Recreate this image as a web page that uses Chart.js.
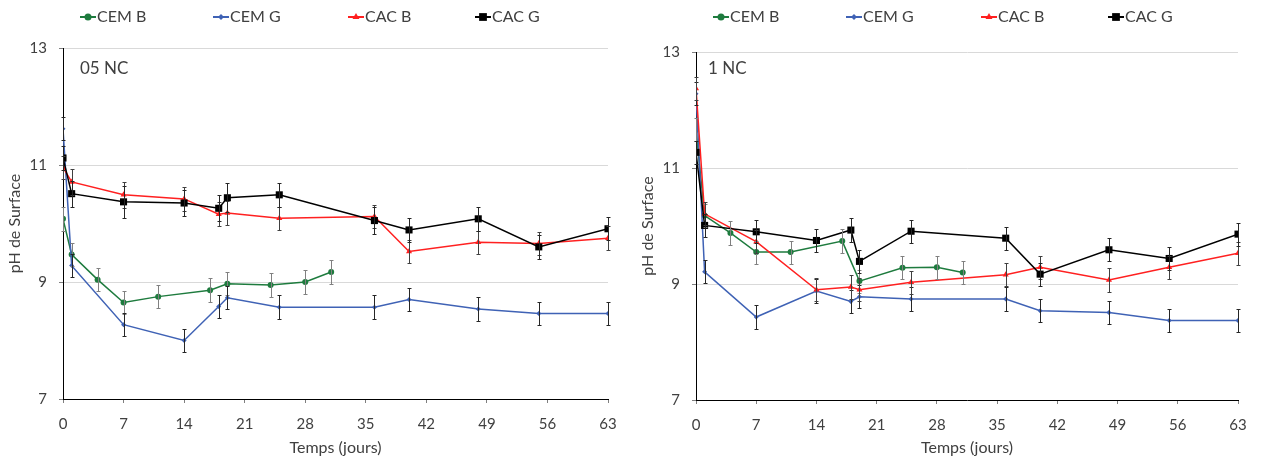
<!DOCTYPE html>
<html lang="fr">
<head>
<meta charset="utf-8">
<title>pH de surface</title>
<script src="https://cdn.jsdelivr.net/npm/chart.js@4/dist/chart.umd.min.js"></script>
<style>
  html, body { margin: 0; padding: 0; background: #fff; }
  .wrap { position: relative; width: 1261px; height: 461px; overflow: hidden; }
  .panel { position: absolute; top: 0; height: 461px; }
</style>
</head>
<body>
<div class="wrap">
  <div class="panel" style="left:0;width:630px"><canvas id="chart05" width="630" height="461"></canvas></div>
  <div class="panel" style="left:630px;width:631px"><canvas id="chart1" width="631" height="461"></canvas></div>
</div>
<script>
// jours de mesure
const daysMain = [0, 1, 7, 14, 18, 19, 25, 36, 40, 48, 55, 63];
const daysCemB = [0, 1, 4, 7, 11, 17, 19, 24, 28, 31];

// graduations
const xTicks = [0, 7, 14, 21, 28, 35, 42, 49, 56, 63];
const yTicks = [7, 9, 11, 13];

// 05 NC
const cemB05 = [10.08, 9.47, 9.04, 8.65, 8.75, 8.86, 8.97, 8.95, 9.0, 9.17];
const cemG05 = [11.62, 9.28, 8.27, 8.0, 8.58, 8.73, 8.57, 8.57, 8.7, 8.54, 8.46, 8.46];
const cacB05 = [10.96, 10.71, 10.49, 10.42, 10.16, 10.18, 10.09, 10.12, 9.52, 9.68, 9.66, 9.75];
const cacG05 = [11.12, 10.51, 10.37, 10.35, 10.26, 10.44, 10.49, 10.05, 9.89, 10.08, 9.6, 9.91];

const cemB05Err = [0.2, 0.2, 0.2, 0.2, 0.2, 0.2, 0.2, 0.2, 0.2, 0.2];
const cemG05Err = [0.2, 0.2, 0.2, 0.2, 0.2, 0.2, 0.2, 0.2, 0.2, 0.2, 0.2, 0.2];
const cacB05Err = [0.2, 0.22, 0.22, 0.2, 0.2, 0.2, 0.2, 0.2, 0.2, 0.2, 0.2, 0.2];
const cacG05Err = [0.2, 0.22, 0.27, 0.22, 0.22, 0.25, 0.21, 0.23, 0.2, 0.2, 0.2, 0.2];

// 1 NC
const cemB1 = [11.66, 10.18, 9.88, 9.55, 9.55, 9.74, 9.05, 9.28, 9.29, 9.2];
const cemG1 = [12.28, 9.21, 8.43, 8.88, 8.7, 8.78, 8.74, 8.74, 8.54, 8.51, 8.37, 8.37];
const cacB1 = [12.37, 10.21, 9.73, 8.9, 8.95, 8.9, 9.03, 9.16, 9.29, 9.07, 9.29, 9.53];
const cacG1 = [11.27, 10.01, 9.9, 9.75, 9.93, 9.39, 9.91, 9.79, 9.17, 9.59, 9.44, 9.86];

const cemB1Err = [0.2, 0.2, 0.2, 0.2, 0.2, 0.2, 0.2, 0.2, 0.2, 0.2];
const cemG1Err = [0.2, 0.2, 0.2, 0.2, 0.2, 0.2, 0.2, 0.2, 0.2, 0.2, 0.2, 0.2];
const cacB1Err = [0.2, 0.2, 0.2, 0.2, 0.2, 0.2, 0.2, 0.2, 0.2, 0.2, 0.2, 0.2];
const cacG1Err = [0.2, 0.2, 0.2, 0.2, 0.2, 0.2, 0.2, 0.2, 0.2, 0.2, 0.2, 0.2];

const FONT = "Lato, 'Open Sans', sans-serif";
const TEXT = "#404040";

// style des séries
const seriesStyle = [
  { label: "CEM B", color: "#1e7b3e", err: "#808080", point: "circle", radius: 3, order: 4 },
  { label: "CEM G", color: "#3f62b5", err: "#262626", point: "rectRot", radius: 2.5, order: 3 },
  { label: "CAC B", color: "#ff2020", err: "#404040", point: "triangle", radius: 3.5, order: 2 },
  { label: "CAC G", color: "#000000", err: "#262626", point: "rect", radius: 5, order: 1 },
];

// décalage des entrées de légende depuis le bord gauche du graphe
const legendOffsets = [17, 150, 285, 412];

function toPoints(days, values) {
  return values.map((v, i) => ({ x: days[i], y: v }));
}

// barres d'erreur
const errorBarsPlugin = {
  id: "errorBars",
  afterDatasetsDraw(chart) {
    const ctx = chart.ctx;
    const yScale = chart.scales.y;
    chart.data.datasets.forEach((ds, i) => {
      const meta = chart.getDatasetMeta(i);
      ctx.save();
      ctx.strokeStyle = ds.errorColor;
      ctx.lineWidth = 1;
      meta.data.forEach((pt, j) => {
        const v = ds.data[j].y;
        const e = ds.errors[j];
        const yTop = Math.round(yScale.getPixelForValue(v + e)) + 0.5;
        const yBot = Math.round(yScale.getPixelForValue(v - e)) + 0.5;
        const x = Math.round(pt.x) + 0.5;
        ctx.beginPath();
        ctx.moveTo(x, yTop);
        ctx.lineTo(x, yBot);
        ctx.moveTo(x - 2, yTop);
        ctx.lineTo(x + 2, yTop);
        ctx.moveTo(x - 2, yBot);
        ctx.lineTo(x + 2, yBot);
        ctx.stroke();
      });
      ctx.restore();
    });
  },
};

function drawMarker(ctx, style, r, x, y) {
  ctx.beginPath();
  if (style === "circle") {
    ctx.arc(x, y, r, 0, Math.PI * 2);
  } else if (style === "rect") {
    const s = r * Math.SQRT1_2;
    ctx.rect(x - s, y - s, 2 * s, 2 * s);
  } else if (style === "rectRot") {
    ctx.moveTo(x, y - r);
    ctx.lineTo(x + r, y);
    ctx.lineTo(x, y + r);
    ctx.lineTo(x - r, y);
    ctx.closePath();
  } else if (style === "triangle") {
    ctx.moveTo(x, y - r);
    ctx.lineTo(x + r * 0.87, y + r * 0.5);
    ctx.lineTo(x - r * 0.87, y + r * 0.5);
    ctx.closePath();
  }
  ctx.fill();
}

// légende en haut + étiquette du panneau
const legendPlugin = {
  id: "topLegend",
  afterDraw(chart, args, opts) {
    const ctx = chart.ctx;
    const area = chart.chartArea;
    ctx.save();
    ctx.font = "16px " + FONT;
    ctx.textBaseline = "middle";
    const y = 17;
    chart.data.datasets.forEach((ds, i) => {
      const x = area.left + legendOffsets[i];
      ctx.strokeStyle = ds.borderColor;
      ctx.lineWidth = 2;
      ctx.beginPath();
      ctx.moveTo(x, y);
      ctx.lineTo(x + 16, y);
      ctx.stroke();
      ctx.fillStyle = ds.borderColor;
      drawMarker(ctx, ds.pointStyle, ds.pointRadius + 0.5, x + 8, y);
      ctx.fillStyle = TEXT;
      ctx.textAlign = "left";
      ctx.fillText(ds.label, x + 17, y);
    });
    ctx.font = "17px " + FONT;
    ctx.fillStyle = TEXT;
    ctx.fillText(opts.panel, area.left + opts.panelDx, 69);
    ctx.restore();
  },
};

function makeChart(id, panel, seriesDays, seriesValues, seriesErrors, geom) {
  const canvas = document.getElementById(id);
  const datasets = seriesStyle.map((s, i) => ({
    label: s.label,
    data: toPoints(seriesDays[i], seriesValues[i]),
    errors: seriesErrors[i],
    errorColor: s.err,
    borderColor: s.color,
    backgroundColor: s.color,
    borderWidth: 1.5,
    pointStyle: s.point,
    pointRadius: s.radius,
    pointBackgroundColor: s.color,
    pointBorderColor: s.color,
    pointBorderWidth: 0,
    tension: 0,
    order: s.order,
  }));

  return new Chart(canvas, {
    type: "line",
    data: { datasets },
    options: {
      responsive: false,
      animation: false,
      devicePixelRatio: 1,
      layout: {
        padding: { top: geom.top, right: canvas.width - geom.right, left: 0, bottom: 0 },
      },
      plugins: {
        legend: { display: false },
        tooltip: { enabled: false },
        topLegend: { panel: panel, panelDx: geom.panelDx },
      },
      scales: {
        x: {
          type: "linear",
          min: 0,
          max: 63,
          afterBuildTicks: (scale) => {
            scale.ticks = xTicks.map((v) => ({ value: v }));
          },
          afterFit: (scale) => {
            scale.height = canvas.height - geom.bottom;
          },
          grid: {
            drawOnChartArea: false,
            drawTicks: true,
            tickLength: 4,
            tickColor: "#7f7f7f",
          },
          border: { color: "#000", width: 1 },
          ticks: {
            color: TEXT,
            padding: 12,
            font: { family: FONT, size: 15 },
            maxRotation: 0,
          },
          title: {
            display: true,
            text: "Temps (jours)",
            color: TEXT,
            font: { family: FONT, size: 16 },
            padding: { top: 2, bottom: 4 },
          },
        },
        y: {
          type: "linear",
          min: 7,
          max: 13,
          afterBuildTicks: (scale) => {
            scale.ticks = yTicks.map((v) => ({ value: v }));
          },
          afterFit: (scale) => {
            scale.width = geom.left;
          },
          grid: {
            color: "#d9d9d9",
            tickColor: "#7f7f7f",
            tickLength: 4,
          },
          border: { color: "#000", width: 1 },
          ticks: {
            color: TEXT,
            padding: 12,
            font: { family: FONT, size: 15 },
          },
          title: {
            display: true,
            text: "pH de Surface",
            color: TEXT,
            font: { family: FONT, size: 16 },
            padding: { top: geom.titlePad, bottom: 0 },
          },
        },
      },
    },
    plugins: [errorBarsPlugin, legendPlugin],
  });
}

makeChart(
  "chart05",
  "05 NC",
  [daysCemB, daysMain, daysMain, daysMain],
  [cemB05, cemG05, cacB05, cacG05],
  [cemB05Err, cemG05Err, cacB05Err, cacG05Err],
  { left: 63, right: 608, top: 48, bottom: 399, titlePad: 5, panelDx: 17 }
);

makeChart(
  "chart1",
  "1 NC",
  [daysCemB, daysMain, daysMain, daysMain],
  [cemB1, cemG1, cacB1, cacG1],
  [cemB1Err, cemG1Err, cacB1Err, cacG1Err],
  { left: 66, right: 608, top: 52, bottom: 400, titlePad: 8, panelDx: 12 }
);
</script>
</body>
</html>
